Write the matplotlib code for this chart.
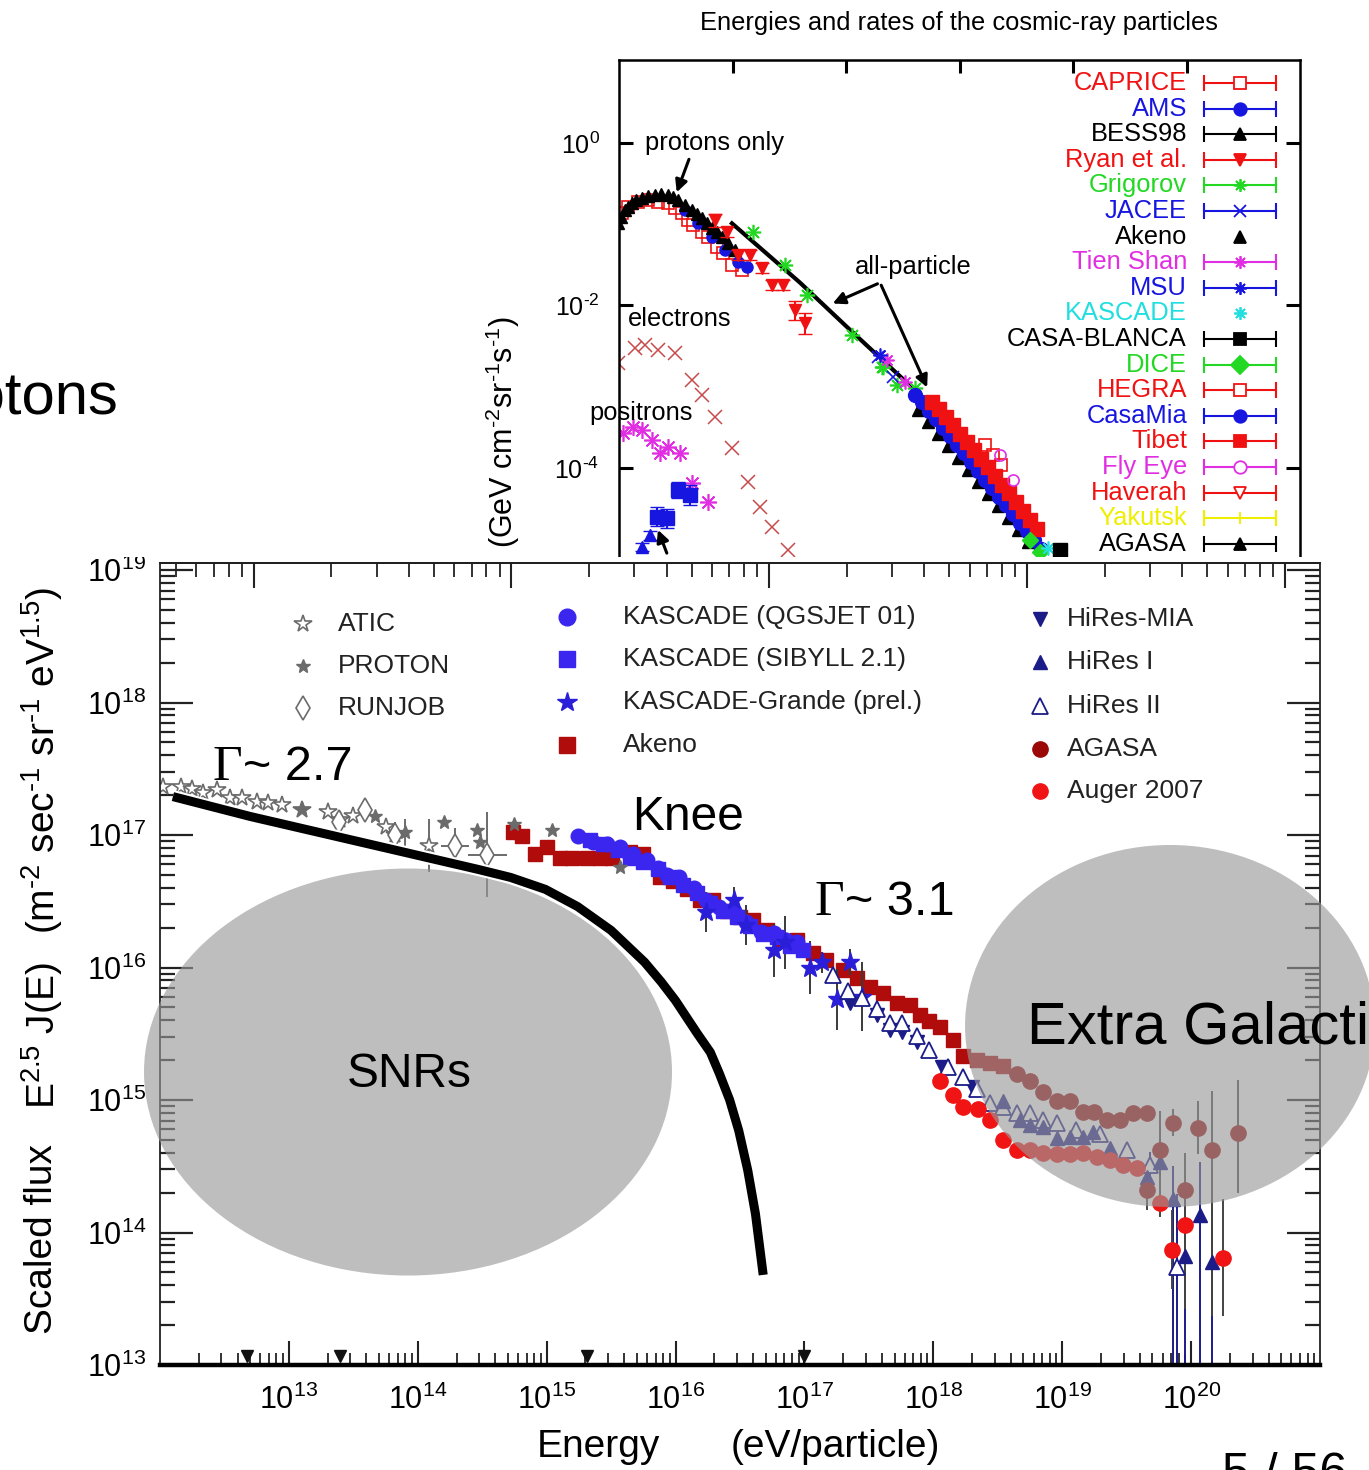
import numpy as np
import matplotlib.pyplot as plt
from matplotlib.patches import Ellipse, Rectangle
from matplotlib.lines import Line2D
from matplotlib.ticker import LogLocator, NullLocator, NullFormatter
import matplotlib.patheffects as pe

plt.rcParams['font.family'] = ['Liberation Sans', 'DejaVu Sans']
plt.rcParams['mathtext.fontset'] = 'custom'
plt.rcParams['mathtext.rm'] = 'Liberation Sans'
plt.rcParams['mathtext.it'] = 'Liberation Sans:italic'
plt.rcParams['mathtext.bf'] = 'Liberation Sans:bold'
NARROW = ['Liberation Sans Narrow', 'Liberation Sans', 'DejaVu Sans']

# ============= top panel data: log10 E (GeV), log10 flux =============
bess_x = [-1.02, -0.97, -0.89, -0.84, -0.77, -0.70, -0.60, -0.49, -0.37, -0.26, -0.14, -0.05,
          0.04, 0.16, 0.29, 0.37, 0.46, 0.55, 0.64, 0.73, 0.82, 0.92, 1.04]
bess_y = [-0.99, -0.91, -0.83, -0.79, -0.74, -0.70, -0.68, -0.65, -0.64, -0.63, -0.64, -0.67,
          -0.70, -0.76, -0.83, -0.87, -0.92, -0.99, -1.05, -1.10, -1.16, -1.23, -1.32]
caprice_x = [-0.95, -0.84, -0.67, -0.49, -0.31, -0.14, -0.01, 0.11, 0.22, 0.30, 0.46, 0.57,
             0.73, 0.83, 0.99, 1.17]
caprice_y = [-0.86, -0.79, -0.73, -0.70, -0.73, -0.74, -0.80, -0.86, -0.95, -1.01, -1.10, -1.16,
             -1.28, -1.35, -1.50, -1.56]
ams_x = [0.16, 0.39, 0.64, 0.87, 1.10, 1.26]
ams_y = [-0.83, -0.99, -1.16, -1.32, -1.47, -1.53]
ryan_x = [0.69, 0.90, 1.10, 1.31, 1.52, 1.70, 1.89, 2.10, 2.28]
ryan_y = [-0.95, -1.10, -1.38, -1.38, -1.54, -1.75, -1.75, -2.06, -2.22]
ryan_err = [0.08, 0.06, 0.06, 0.06, 0.06, 0.06, 0.06, 0.12, 0.13]
grig_x = [1.36, 1.93, 2.31, 3.11, 3.63, 3.65, 3.90, 4.22]
grig_y = [-1.10, -1.50, -1.87, -2.36, -2.76, -2.76, -2.98, -3.02]
allpart_x = [0.99, 2.19, 3.07, 4.18]
allpart_y = [-0.99, -1.72, -2.30, -3.02]
jacee_x = [3.56, 3.83]
jacee_y = [-2.63, -2.88]
tien_x = [3.72, 4.04]
tien_y = [-2.67, -2.94]
msu_x = [3.60]
msu_y = [-2.61]
casamia_x = [4.22, 4.34, 4.46, 4.59, 4.71, 4.83, 4.96, 5.08, 5.20, 5.33, 5.45, 5.57, 5.70,
             5.82, 5.94, 6.07, 6.19, 6.31, 6.44]
casamia_y = [-3.10, -3.19, -3.30, -3.40, -3.51, -3.61, -3.72, -3.82, -3.93, -4.04, -4.15, -4.25,
             -4.36, -4.46, -4.57, -4.68, -4.78, -4.89, -5.00]
tibet_x = [4.52, 4.64, 4.76, 4.89, 5.01, 5.13, 5.26, 5.38, 5.50, 5.63, 5.75, 5.87, 6.00, 6.12,
           6.24, 6.37]
tibet_y = [-3.19, -3.27, -3.37, -3.47, -3.58, -3.68, -3.78, -3.89, -3.99, -4.10, -4.21, -4.31,
           -4.42, -4.53, -4.64, -4.75]
akeno_t_x = [4.27, 4.45, 4.62, 4.80, 4.97, 5.15, 5.33, 5.50, 5.68, 5.86, 6.03, 6.21]
akeno_t_y = [-3.29, -3.43, -3.58, -3.73, -3.88, -4.03, -4.17, -4.32, -4.47, -4.62, -4.76, -4.91]
hegra_x = [5.45, 5.59, 5.73]
hegra_y = [-3.72, -3.84, -3.96]
flyeye_x = [5.71, 5.94]
flyeye_y = [-3.84, -4.15]
dice_x = [6.24, 6.42]
dice_y = [-4.89, -5.03]
kascade_t_x = [6.56]
kascade_t_y = [-4.99]
casab_x = [6.77]
casab_y = [-5.01]
elec_x = [-1.02, -0.72, -0.54, -0.31, -0.01, 0.29, 0.46, 0.69, 0.99, 1.27, 1.49, 1.70, 1.98]
elec_y = [-2.71, -2.52, -2.49, -2.55, -2.59, -2.92, -3.10, -3.37, -3.75, -4.17, -4.48, -4.73, -5.01]
posi_x = [-0.93, -0.75, -0.60, -0.42, -0.28, -0.14, 0.08, 0.29, 0.57]
posi_y = [-3.57, -3.50, -3.53, -3.66, -3.82, -3.74, -3.82, -4.19, -4.42]
pbar_x = [-0.33, -0.15, 0.04, 0.25]
pbar_y = [-4.60, -4.62, -4.27, -4.33]
pbar_err = [0.12, 0.12, 0.1, 0.12]
pbar2_x = [-0.60, -0.45]
pbar2_y = [-4.97, -4.83]
pbar2_err = [0.05, 0.06]

top_names = ['CAPRICE', 'AMS', 'BESS98', 'Ryan et al.', 'Grigorov', 'JACEE', 'Akeno',
             'Tien Shan', 'MSU', 'KASCADE', 'CASA-BLANCA', 'DICE', 'HEGRA', 'CasaMia',
             'Tibet', 'Fly Eye', 'Haverah', 'Yakutsk', 'AGASA']

# ============= main panel data: log10 E (eV), log10 E^2.5 J(E) =============
atic_e = [12.02, 12.16, 12.25, 12.33, 12.44, 12.54, 12.64, 12.75, 12.84, 12.95, 13.10, 13.30,
          13.40, 13.50, 13.75, 13.82, 14.09]
atic_f = [17.36, 17.36, 17.35, 17.32, 17.34, 17.28, 17.28, 17.25, 17.24, 17.23, 17.19, 17.17,
          17.11, 17.14, 17.06, 17.00, 16.92]
atic_err = [0, 0, 0, 0, 0, 0, 0, 0, 0, 0, 0, 0, 0, 0, 0, 0.1, 0.2]
proton_e = [13.10, 13.67, 13.90, 14.20, 14.46, 14.48, 14.75, 15.04, 15.57]
proton_f = [17.20, 17.14, 17.02, 17.10, 17.04, 16.95, 17.08, 17.04, 16.76]
proton_err = [0, 0, 0.1, 0, 0, 0, 0, 0, 0]
runjob_e = [13.39, 13.59, 13.82, 14.29, 14.54]
runjob_f = [17.10, 17.19, 17.00, 16.92, 16.85]
runjob_yerr = [0, 0, 0, 0.13, 0.32]
runjob_xerr = [0, 0, 0, 0.11, 0.15]
akeno_e = [14.74, 14.81, 14.91, 15.00, 15.10, 15.20, 15.31, 15.41, 15.51, 15.65, 15.75, 15.88,
           15.98, 16.09, 16.19, 16.29, 16.40, 16.50, 16.60, 16.71, 16.81, 16.94, 17.07, 17.17,
           17.30, 17.41, 17.51, 17.61, 17.72, 17.82, 17.90, 17.97, 18.05, 18.15, 18.23, 18.34,
           18.44, 18.54]
akeno_f = [17.02, 16.99, 16.86, 16.91, 16.83, 16.83, 16.83, 16.83, 16.83, 16.87, 16.86, 16.68,
           16.65, 16.59, 16.51, 16.51, 16.43, 16.38, 16.36, 16.28, 16.21, 16.21, 16.11, 16.06,
           15.98, 15.92, 15.85, 15.81, 15.73, 15.72, 15.64, 15.60, 15.55, 15.45, 15.33, 15.30,
           15.28, 15.26]
kq_e = [15.24, 15.36, 15.47, 15.57, 15.67, 15.78, 15.86, 15.93, 16.03, 16.14, 16.24, 16.34,
        16.45, 16.55, 16.66, 16.76, 16.86, 16.94]
kq_f = [16.99, 16.95, 16.93, 16.91, 16.86, 16.81, 16.75, 16.70, 16.68, 16.60, 16.51, 16.46,
        16.43, 16.34, 16.27, 16.26, 16.21, 16.19]
ks_e = [15.34, 15.44, 15.55, 15.65, 15.75, 15.86, 15.96, 16.06, 16.17, 16.27, 16.37, 16.48,
        16.58, 16.68, 16.79, 16.89, 16.99]
ks_f = [16.96, 16.93, 16.89, 16.83, 16.80, 16.74, 16.68, 16.62, 16.56, 16.49, 16.43, 16.38,
        16.31, 16.25, 16.23, 16.16, 16.13]
kg_e = [16.24, 16.45, 16.55, 16.76, 16.85, 17.04, 17.14, 17.25, 17.35, 17.45]
kg_f = [16.42, 16.51, 16.32, 16.13, 16.19, 16.00, 16.04, 15.76, 16.04, 15.78]
kg_err = [0.15, 0.10, 0.15, 0.20, 0.20, 0.20, 0.08, 0.23, 0.10, 0.26]
mia_e = [17.35, 17.56, 17.66, 17.76, 17.87, 18.07, 18.30]
mia_f = [15.73, 15.64, 15.53, 15.51, 15.44, 15.25, 15.10]
hr2_e = [17.22, 17.34, 17.45, 17.56, 17.66, 17.76, 17.87, 17.97, 18.11, 18.23, 18.34, 18.44,
         18.54, 18.65, 18.75, 18.85, 18.96, 19.11, 19.29, 19.50, 19.68, 19.89]
hr2_f = [15.94, 15.82, 15.77, 15.69, 15.58, 15.58, 15.48, 15.38, 15.25, 15.17, 15.08, 14.98,
         14.95, 14.90, 14.90, 14.85, 14.83, 14.77, 14.74, 14.62, 14.51, 13.74]
hr2_lo = [0] * 19 + [0.05, 0.1, 1.0]
hr2_hi = [0] * 19 + [0.05, 0.1, 0.55]
hr1_e = [18.54, 18.67, 18.75, 18.85, 18.96, 19.06, 19.16, 19.24, 19.37, 19.66, 19.76, 19.86,
         19.95, 20.07, 20.16]
hr1_f = [14.99, 14.85, 14.81, 14.80, 14.71, 14.72, 14.72, 14.76, 14.64, 14.42, 14.53, 14.25,
         13.82, 14.13, 13.78]
hr1_lo = [0] * 9 + [0.1, 0.1, 1.3, 1.0, 1.2, 1.0]
hr1_hi = [0] * 9 + [0.1, 0.1, 0.25, 0.3, 0.4, 0.7]
agasa_e = [18.65, 18.75, 18.85, 18.96, 19.06, 19.16, 19.25, 19.35, 19.45, 19.55, 19.66, 19.66,
           19.76, 19.86, 19.95, 20.05, 20.16, 20.36]
agasa_f = [15.20, 15.14, 15.06, 14.99, 14.99, 14.91, 14.91, 14.85, 14.85, 14.90, 14.90, 14.32,
           14.62, 14.83, 14.32, 14.79, 14.62, 14.75]
agasa_lo = [0] * 11 + [0.15, 0.3, 0.1, 0.9, 0.2, 1.25, 0.45]
agasa_hi = [0] * 11 + [0.15, 0.3, 0.1, 0.28, 0.2, 0.45, 0.4]
auger_e = [18.05, 18.15, 18.23, 18.35, 18.44, 18.54, 18.65, 18.75, 18.85, 18.96, 19.06, 19.16,
           19.27, 19.37, 19.47, 19.58, 19.76, 19.95, 19.85, 20.25]
auger_f = [15.14, 15.04, 14.95, 14.93, 14.85, 14.70, 14.62, 14.62, 14.60, 14.59, 14.59, 14.60,
           14.57, 14.55, 14.51, 14.49, 14.22, 14.06, 13.87, 13.81]
auger_err = [0] * 16 + [0.1, 0.2, 0.3, 0.44]
axis_marks_e = [12.675, 13.40, 15.31, 17.00]
snr_e = [12.10, 12.70, 13.32, 13.94, 14.47, 14.72, 14.99, 15.24, 15.50, 15.63, 15.76, 15.89,
         16.00, 16.17, 16.27, 16.34, 16.42, 16.49, 16.56, 16.62, 16.68]
snr_f = [17.29, 17.14, 17.00, 16.86, 16.74, 16.68, 16.59, 16.46, 16.28, 16.16, 16.04, 15.89,
         15.75, 15.50, 15.36, 15.20, 15.00, 14.77, 14.47, 14.14, 13.68]

# ============= figure =============
W, H = 1369, 1470
fig = plt.figure(figsize=(W / 100, H / 100), dpi=100)


def fx(px):
    return px / W


def fy(py):
    return 1 - py / H


def P(v):
    return 10.0 ** np.asarray(v, float)


def dex(logv, lo, hi=None):
    logv = np.asarray(logv, float)
    lo = np.asarray(lo, float)
    hi = lo if hi is None else np.asarray(hi, float)
    v = 10 ** logv
    return v, np.vstack([v - 10 ** (logv - lo), 10 ** (logv + hi) - v])


RED, BLUE, GREEN = '#f01212', '#1616e0', '#22d822'
MAGENTA, CYAN, YELLOW = '#e22ee2', '#22dede', '#eeee00'
AST = (8, 2, 0)

# ---------------- top panel ----------------
axt = fig.add_axes([fx(619), fy(650), (1300 - 619) / W, (650 - 60) / H])
axt.set_xscale('log')
axt.set_yscale('log')
axt.set_xlim(10 ** -1, 10 ** 11)
axt.set_ylim(10 ** -6.24, 10 ** 1.02)
for s in axt.spines.values():
    s.set_linewidth(1.8)
axt.set_xticks([10.0 ** k for k in (1, 3, 5, 7, 9)])
axt.xaxis.set_major_formatter(NullFormatter())
axt.xaxis.set_minor_locator(NullLocator())
axt.set_yticks([10.0 ** k for k in (0, -2, -4, -6)],
               labels=[r'$10^{0}$', r'$10^{\text{-2}}$', r'$10^{\text{-4}}$', r'$10^{\text{-6}}$'])
axt.yaxis.set_minor_locator(NullLocator())
axt.tick_params(axis='x', direction='in', top=True, bottom=False, length=9, width=2.2)
axt.tick_params(axis='y', direction='in', left=True, right=True, length=10, width=2.2,
                labelsize=18, pad=14)

axt.plot(P(elec_x), P(elec_y), ls='none', marker='x', ms=10, mew=1.1, color='#c84a4a')
axt.plot(P(posi_x), P(posi_y), ls='none', marker=AST, ms=12, mew=1.2, color=MAGENTA)
v, e = dex(pbar_y, pbar_err)
axt.errorbar(P(pbar_x), v, yerr=e, fmt='s', ms=10, color=BLUE, capsize=5, lw=1.5)
v, e = dex(pbar2_y, pbar2_err)
axt.errorbar(P(pbar2_x), v, yerr=e, fmt='^', ms=9, color=BLUE, capsize=5, lw=1.5)
axt.plot(P(caprice_x), P(caprice_y), ls='none', marker='s', ms=8, mfc='none', mew=1.2, color=RED)
axt.plot(P(ams_x), P(ams_y), ls='none', marker='o', ms=8, color=BLUE)
axt.plot(P(bess_x), P(bess_y), ls='none', marker='^', ms=8, color='black')
v, e = dex(ryan_y, ryan_err)
axt.errorbar(P(ryan_x), v, yerr=e, fmt='v', ms=9, color=RED, capsize=5, lw=1.5)
axt.plot(P(allpart_x), P(allpart_y), color='black', lw=3)
axt.plot(P(grig_x), P(grig_y), ls='none', marker=AST, ms=11, mew=1.2, color=GREEN)
axt.plot(P(jacee_x), P(jacee_y), ls='none', marker='x', ms=9, mew=1.2, color=BLUE)
axt.plot(P(tien_x), P(tien_y), ls='none', marker=AST, ms=10, mew=1.2, color=MAGENTA)
axt.plot(P(msu_x), P(msu_y), ls='none', marker=AST, ms=10, mew=1.2, color=BLUE)
axt.plot(P(akeno_t_x), P(akeno_t_y), ls='none', marker='^', ms=8, color='black')
axt.plot(P(casamia_x), P(casamia_y), ls='none', marker='o', ms=10, color=BLUE)
axt.plot(P(tibet_x), P(tibet_y), ls='none', marker='s', ms=10, color=RED)
axt.plot(P(hegra_x), P(hegra_y), ls='none', marker='s', ms=9, mfc='none', mew=1.2, color=RED)
axt.plot(P(flyeye_x), P(flyeye_y), ls='none', marker='o', ms=8, mfc='none', mew=1.2, color=MAGENTA)
axt.plot(P(dice_x), P(dice_y), ls='none', marker='D', ms=8, color=GREEN)
axt.plot(P(kascade_t_x), P(kascade_t_y), ls='none', marker=AST, ms=10, mew=1.2, color=CYAN)
axt.plot(P(casab_x), P(casab_y), ls='none', marker='s', ms=10, color='black')

arrow = dict(arrowstyle='-|>', color='black', lw=2.2, mutation_scale=18)
axt.annotate('', xy=(P(0.00), P(-0.64)), xytext=(P(0.25), P(-0.17)), arrowprops=arrow)
axt.annotate('', xy=(P(2.72), P(-1.99)), xytext=(P(3.60), P(-1.72)), arrowprops=arrow)
axt.annotate('', xy=(P(4.45), P(-3.04)), xytext=(P(3.60), P(-1.72)), arrowprops=arrow)
axt.annotate('', xy=(P(-0.33), P(-4.73)), xytext=(P(-0.14), P(-5.08)), arrowprops=arrow)
axt.text(P(-0.54), P(0.0), 'protons only', fontsize=18.4, va='center')
axt.text(P(3.16), P(-1.53), 'all-particle', fontsize=18.4, va='center')
axt.text(P(-0.84), P(-2.17), 'electrons', fontsize=18.4, va='center')
axt.text(P(-1.53), P(-3.32), 'positrons', fontsize=18.4, va='center', clip_on=False)

fig.text(fx(959), fy(23), 'Energies and rates of the cosmic-ray particles', fontsize=18.4,
         ha='center', va='center')
fig.text(fx(503), fy(548), r'(GeV cm$^{\text{-2}}$sr$^{\text{-1}}$s$^{\text{-1}}$)', fontsize=22,
         rotation=90, ha='center', va='bottom')

# legend of the top panel, drawn row by row
top_colors = [RED, BLUE, 'black', RED, GREEN, BLUE, 'black', MAGENTA, BLUE, CYAN, 'black',
              GREEN, RED, BLUE, RED, MAGENTA, RED, YELLOW, 'black']
top_marks = ['s', 'o', '^', 'v', AST, 'x', '^', AST, AST, AST, 's', 'D', 's', 'o', 's', 'o',
             'v', '|', '^']
top_open = {'CAPRICE', 'HEGRA', 'Fly Eye', 'Haverah'}
top_nobar = {'Akeno', 'KASCADE'}
for i, name in enumerate(top_names):
    y = 83 + 25.6 * i
    c = top_colors[i]
    fig.text(fx(1187), fy(y), name, color=c, fontsize=18.4, ha='right', va='center')
    if name not in top_nobar:
        fig.add_artist(Line2D([fx(1204), fx(1276)], [fy(y), fy(y)], color=c, lw=1.5,
                              marker='|', ms=11, mew=1.5, transform=fig.transFigure))
    fig.add_artist(Line2D([fx(1240)], [fy(y)], ls='none', marker=top_marks[i], ms=9, mew=1.3,
                          color=c, mfc='white' if name in top_open else c,
                          transform=fig.transFigure))

# white band between the two pictures
fig.add_artist(Rectangle((0, fy(650)), 1, fy(557) - fy(650), transform=fig.transFigure,
                         fc='white', ec='none', zorder=1))

# ---------------- main panel ----------------
axm = fig.add_axes([fx(160), fy(1365), 1160 / W, 802 / H])
axm.set_zorder(2)
axm.set_xscale('log')
axm.set_yscale('log')
axm.set_xlim(1e12, 1e21)
axm.set_ylim(1e13, 10 ** 19.053)
axm.set_xticks([10.0 ** k for k in range(13, 21)],
               labels=[r'$10^{%d}$' % k for k in range(13, 21)])
axm.set_yticks([10.0 ** k for k in range(13, 20)],
               labels=[r'$10^{%d}$' % k for k in range(13, 20)])
axm.xaxis.set_minor_locator(LogLocator(base=10, subs=np.arange(2, 10), numticks=40))
axm.yaxis.set_minor_locator(LogLocator(base=10, subs=np.arange(2, 10), numticks=40))
axm.xaxis.set_minor_formatter(NullFormatter())
axm.yaxis.set_minor_formatter(NullFormatter())
axm.tick_params(axis='x', which='major', direction='in', length=17, width=1.5,
                labelsize=22, pad=14, color='#222222')
axm.tick_params(axis='x', which='minor', direction='in', length=9, width=1.3, color='#222222')
axm.tick_params(axis='y', which='major', direction='in', left=True, right=True, length=24,
                width=1.6, labelsize=22, pad=10, color='#222222')
axm.tick_params(axis='y', which='minor', direction='in', left=True, right=True, length=11,
                width=1.6, color='#222222')
for s in ('left', 'right', 'top'):
    axm.spines[s].set_linewidth(1.3)
    axm.spines[s].set_color('#222222')
axm.spines['bottom'].set_linewidth(3.2)


def fwd(e):
    return np.sqrt(2 * 0.938e9 * np.clip(e, 1e-30, None)) / 1e9


def inv(s):
    return (np.asarray(s) * 1e9) ** 2 / (2 * 0.938e9)


secx = axm.secondary_xaxis('top', functions=(fwd, inv))
secx.xaxis.set_major_locator(LogLocator(base=10, numticks=20))
secx.xaxis.set_minor_locator(LogLocator(base=10, subs=np.arange(2, 10), numticks=40))
secx.xaxis.set_major_formatter(NullFormatter())
secx.xaxis.set_minor_formatter(NullFormatter())
secx.tick_params(which='major', direction='in', length=18, width=1.5, color='#222222')
secx.tick_params(which='minor', direction='in', length=10, width=1.3, color='#222222')
secx.spines['top'].set_linewidth(1.3)

GRAY = '#6b6b6b'
AKENO = '#b00c0c'
KASC = '#3a26ee'
KGR = '#2a1ed8'
HIRES = '#1c1c88'
AGASA = '#9a0808'
AUGER = '#f01414'
EB = dict(ls='none', elinewidth=1.4, capsize=0)

v, e = dex(atic_f, atic_err)
axm.errorbar(P(atic_e), v, yerr=e, marker='*', ms=13, mfc='white', mec=GRAY, mew=1.2,
             ecolor=GRAY, **EB)
v, e = dex(proton_f, proton_err)
axm.errorbar(P(proton_e), v, yerr=e, marker='*', ms=10, color=GRAY, ecolor=GRAY, **EB)
v, e = dex(runjob_f, runjob_yerr)
xv, xe = dex(runjob_e, runjob_xerr)
axm.errorbar(xv, v, yerr=e, xerr=xe, marker='d', ms=12, mfc='white', mec=GRAY, mew=1.2,
             ecolor=GRAY, **EB)
axm.plot(P(akeno_e), P(akeno_f), ls='none', marker='s', ms=10, color=AKENO)
v, e = dex(kg_f, kg_err)
axm.errorbar(P(kg_e), v, yerr=e, marker='*', ms=14, color=KGR, ecolor='#3a3a3a', **EB)
axm.plot(P(ks_e), P(ks_f), ls='none', marker='s', ms=10, color=KASC)
axm.plot(P(kq_e), P(kq_f), ls='none', marker='o', ms=10.5, color=KASC)
axm.plot(P(mia_e), P(mia_f), ls='none', marker='v', ms=10, color=HIRES)
v, e = dex(hr2_f, hr2_lo, hr2_hi)
axm.errorbar(P(hr2_e), v, yerr=e, marker='^', ms=11, mfc='white', mec=HIRES, mew=1.3,
             ecolor=HIRES, **EB)
v, e = dex(hr1_f, hr1_lo, hr1_hi)
axm.errorbar(P(hr1_e), v, yerr=e, marker='^', ms=10, color=HIRES, ecolor=HIRES, **EB)
v, e = dex(agasa_f, agasa_lo, agasa_hi)
axm.errorbar(P(agasa_e), v, yerr=e, marker='o', ms=11, color=AGASA, ecolor='#444444', **EB)
v, e = dex(auger_f, auger_err)
axm.errorbar(P(auger_e), v, yerr=e, marker='o', ms=11, color=AUGER, ecolor='#444444', **EB)
axm.plot(P(axis_marks_e), np.full(len(axis_marks_e), 10 ** 13.07), ls='none', marker='v',
         ms=9, color='#111111', clip_on=False)

# grey regions and the SNR spectrum
for cen, wd, ht in [((0.2138, 0.3653), 0.4552, 0.5075), ((0.8707, 0.4227), 0.3534, 0.4514)]:
    axm.add_patch(Ellipse(cen, wd, ht, transform=axm.transAxes, fc=(0.6, 0.6, 0.6),
                          alpha=0.63, ec='none', zorder=3, clip_on=False))
axm.plot(P(snr_e), P(snr_f), color='black', lw=6.5, solid_capstyle='butt',
         solid_joinstyle='round', zorder=4,
         path_effects=[pe.Stroke(linewidth=9.5, foreground='white'), pe.Normal()])

# legend of the main panel
main_leg = [
    (303, 338, 624, 'ATIC', dict(marker='*', ms=13, mfc='white', mec=GRAY, mew=1.2)),
    (303, 338, 666, 'PROTON', dict(marker='*', ms=10, color=GRAY)),
    (303, 338, 708, 'RUNJOB', dict(marker='d', ms=12, mfc='white', mec=GRAY, mew=1.2)),
    (567, 623, 617, 'KASCADE (QGSJET 01)', dict(marker='o', ms=12, color=KASC)),
    (567, 623, 659, 'KASCADE (SIBYLL 2.1)', dict(marker='s', ms=11, color=KASC)),
    (567, 623, 702, 'KASCADE-Grande (prel.)', dict(marker='*', ms=15, color=KGR)),
    (567, 623, 745, 'Akeno', dict(marker='s', ms=11, color=AKENO)),
    (1040, 1067, 619, 'HiRes-MIA', dict(marker='v', ms=10, color=HIRES)),
    (1040, 1067, 662, 'HiRes I', dict(marker='^', ms=10, color=HIRES)),
    (1040, 1067, 706, 'HiRes II', dict(marker='^', ms=11, mfc='white', mec=HIRES, mew=1.3)),
    (1040, 1067, 749, 'AGASA', dict(marker='o', ms=11, color=AGASA)),
    (1040, 1067, 791, 'Auger 2007', dict(marker='o', ms=11, color=AUGER)),
]
for mx, tx, y, name, st in main_leg:
    fig.add_artist(Line2D([fx(mx)], [fy(y)], ls='none', transform=fig.transFigure, zorder=6, **st))
    fig.text(fx(tx), fy(y), name, fontsize=19, ha='left', va='center', color='#222222', zorder=6)

# axis titles
fig.text(fx(42), fy(1239), 'Scaled flux', fontsize=28, rotation=90, ha='center', va='center')
fig.text(fx(42), fy(1036), r'E$^{2.5}$ J(E)', fontsize=28, rotation=90, ha='center', va='center')
fig.text(fx(42), fy(761),
         r'(m$^{\text{-2}}$ sec$^{\text{-1}}$ sr$^{\text{-1}}$ eV$^{1.5}$)',
         fontsize=28, rotation=90, ha='center', va='center')
fig.text(fx(598), fy(1447), 'Energy', fontsize=28, ha='center', va='center')
fig.text(fx(835), fy(1447), '(eV/particle)', fontsize=28, ha='center', va='center')

# slide annotations
fig.text(fx(213), fy(780), '\u0393', family='Liberation Serif', fontsize=37, zorder=7)
fig.text(fx(243), fy(780), '~ 2.7', family=NARROW, fontsize=35, zorder=7)
fig.text(fx(815), fy(915), '\u0393', family='Liberation Serif', fontsize=37, zorder=7)
fig.text(fx(845), fy(915), '~ 3.1', family=NARROW, fontsize=35, zorder=7)
fig.text(fx(632), fy(830), 'Knee', family=NARROW, fontsize=34.5, zorder=7)
fig.text(fx(347), fy(1087), 'SNRs', family=NARROW, fontsize=34.5, zorder=7)
fig.text(fx(1027), fy(1043), 'Extra Galactic', family=NARROW, fontsize=43, zorder=7)
fig.text(fx(118), fy(413), 'Protons', family=NARROW, fontsize=43, ha='right', zorder=7)
fig.text(fx(1222), fy(1452), '5 / 56', family=NARROW, fontsize=36, va='top', zorder=7)

# the lower picture cuts the top of its own 10^19 label
fig.add_artist(Rectangle((0, fy(557)), fx(158), fy(530) - fy(557), transform=fig.transFigure,
                         fc='white', ec='none', zorder=10))

fig.savefig('out.png', dpi=100)
